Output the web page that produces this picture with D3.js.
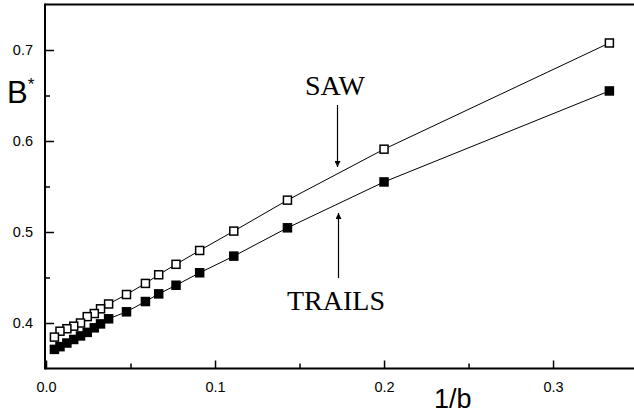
<!DOCTYPE html>
<html><head><meta charset="utf-8">
<script src="https://cdn.jsdelivr.net/npm/d3@7"></script>
<style>html,body{margin:0;padding:0;background:#fff;}svg{display:block;}</style>
</head><body>
<svg id="c" width="634" height="415"></svg>
<script>
// 1/b values (b = linear size)
const bValues = [3,5,7,9,11,13,15,17,21,27,31,35,41,49,61,81,121,201];
const sawValues = [0.7077,0.591,0.535,0.501,0.4797,0.4645,0.453,0.4435,0.4313,0.4209,0.4156,0.4104,0.407,0.400,0.3965,0.3937,0.391,0.3845];
const trailsValues = [0.655,0.555,0.5046,0.4735,0.4552,0.4415,0.432,0.4236,0.4123,0.4046,0.3990,0.3947,0.3897,0.3858,0.3819,0.378,0.374,0.371];
const xMajorTicks = [0.0,0.1,0.2,0.3];
const xMinorTicks = [0.05,0.15,0.25];
const yMajorTicks = [0.4,0.5,0.6,0.7];
const yMinorTicks = [0.45,0.55,0.65];

const svg = d3.select("#c");
const x = d3.scaleLinear().domain([-0.0006, 0.3479]).range([45, 634]);
const y = d3.scaleLinear().domain([0.35, 0.75]).range([368.5, 4.5]);

// frame
const g = svg.append("g");
g.append("line").attr("x1",45).attr("x2",634).attr("y1",y(0.75)).attr("y2",y(0.75)).attr("stroke","#000").attr("stroke-width",2);
g.append("line").attr("x1",45).attr("x2",634).attr("y1",y(0.35)).attr("y2",y(0.35)).attr("stroke","#000").attr("stroke-width",2);
g.append("line").attr("x1",45).attr("x2",45).attr("y1",y(0.75)-1).attr("y2",y(0.35)+1).attr("stroke","#000").attr("stroke-width",2);

// axes with inward ticks
const xAxis = d3.axisBottom(x).tickValues(xMajorTicks).tickFormat(d3.format(".1f")).tickSizeInner(-8).tickSizeOuter(0).tickPadding(13);
const xa = svg.append("g").attr("transform",`translate(0,${y(0.35)})`).call(xAxis);
const xMin = d3.axisBottom(x).tickValues(xMinorTicks).tickFormat("").tickSizeInner(-5).tickSizeOuter(0);
const xm = svg.append("g").attr("transform",`translate(0,${y(0.35)})`).call(xMin);
const yAxis = d3.axisLeft(y).tickValues(yMajorTicks).tickFormat(d3.format(".1f")).tickSizeInner(-9).tickSizeOuter(0).tickPadding(12);
const ya = svg.append("g").attr("transform","translate(45,0)").call(yAxis);
const yMin = d3.axisLeft(y).tickValues(yMinorTicks).tickFormat("").tickSizeInner(-5).tickSizeOuter(0);
const ym = svg.append("g").attr("transform","translate(45,0)").call(yMin);
[xa,xm,ya,ym].forEach(a=>{
  a.select(".domain").remove();
  a.selectAll(".tick line").attr("stroke","#000").attr("stroke-width",1.5);
  a.selectAll(".tick text").attr("fill","#000").style("font-family","Arial, 'Liberation Sans', sans-serif").style("font-size","14.5px");
});

// axis titles
const bt = svg.append("text").attr("x",7).attr("y",103).style("font-family","Arial, 'Liberation Sans', sans-serif").style("font-size","31px").attr("fill","#000");
bt.append("tspan").text("B");
bt.append("tspan").attr("dy",-13).style("font-size","17px").text("*");
svg.append("text").attr("x",434).attr("y",408).style("font-family","Arial, 'Liberation Sans', sans-serif").style("font-size","27px").attr("fill","#000").text("1/b");

// data
const inv = bValues.map(b=>1/b);
const line = d3.line().x(d=>x(d[0])).y(d=>y(d[1]));
const series = [
  {vals: sawValues, fill: "#fff"},
  {vals: trailsValues, fill: "#000"}
];
series.forEach(s=>{
  const pts = inv.map((v,i)=>[v,s.vals[i]]);
  svg.append("path").datum(pts).attr("d",line).attr("fill","none").attr("stroke","#000").attr("stroke-width",1);
  svg.append("g").selectAll("rect").data(pts).join("rect")
    .attr("x",d=>x(d[0])-4).attr("y",d=>y(d[1])-4).attr("width",8).attr("height",8)
    .attr("fill",s.fill).attr("stroke","#000").attr("stroke-width",1.5);
});

// annotations
const defs = svg.append("defs");
defs.append("marker").attr("id","ah").attr("viewBox","0 0 10 10").attr("refX",10).attr("refY",5)
  .attr("markerWidth",10).attr("markerHeight",6).attr("markerUnits","userSpaceOnUse").attr("orient","auto")
  .append("path").attr("d","M0,0 L10,5 L0,10 Z").attr("fill","#000");
svg.append("text").attr("x",335).attr("y",95).attr("text-anchor","middle").style("font-family","'Liberation Serif', 'Times New Roman', serif").style("font-size","28px").attr("fill","#000").text("SAW");
svg.append("line").attr("x1",337.5).attr("x2",337.5).attr("y1",105).attr("y2",167).attr("stroke","#000").attr("stroke-width",1.2).attr("marker-end","url(#ah)");
svg.append("text").attr("x",336).attr("y",310).attr("text-anchor","middle").style("font-family","'Liberation Serif', 'Times New Roman', serif").style("font-size","28px").attr("fill","#000").text("TRAILS");
svg.append("line").attr("x1",338.5).attr("x2",338.5).attr("y1",278).attr("y2",213).attr("stroke","#000").attr("stroke-width",1.2).attr("marker-end","url(#ah)");
</script>
</body></html>
